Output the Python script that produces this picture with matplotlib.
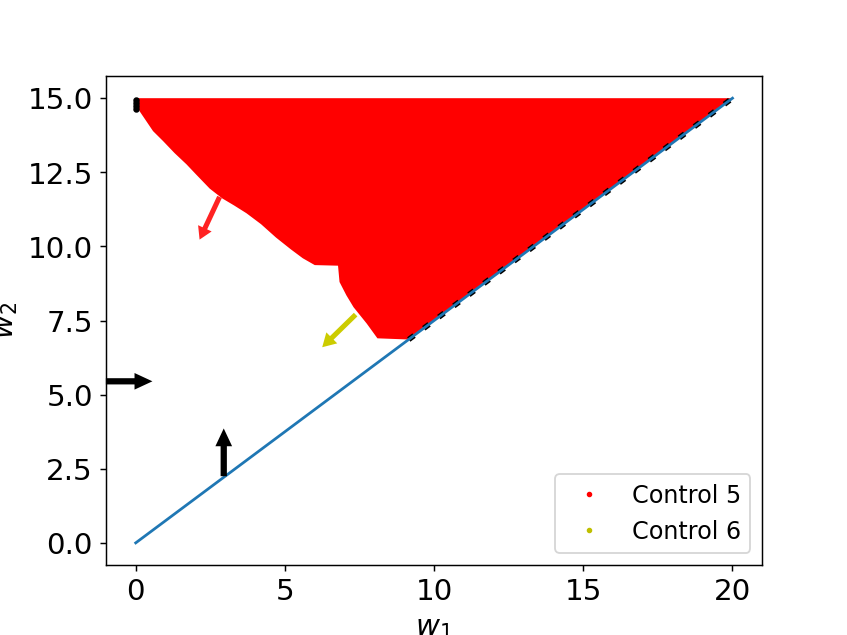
import matplotlib
matplotlib.use('Agg')
import matplotlib.pyplot as plt

# diagonal constraint line w2 = 0.75 w1
line_w1 = [0, 20]
line_w2 = [0, 15]

region_w1 = [0.0, 0.05, 0.13, 0.58, 0.92, 1.30, 1.70, 2.03, 2.48, 2.90, 3.30, 3.71,
             4.20, 4.70, 5.20, 5.60, 6.00, 6.78, 6.83, 7.06, 7.30, 7.74, 8.10, 9.15,
             20.0, 0.0]
region_w2 = [15.0, 14.8, 14.56, 13.89, 13.55, 13.15, 12.77, 12.42, 11.95, 11.62, 11.38, 11.12,
             10.75, 10.30, 9.90, 9.60, 9.37, 9.35, 8.80, 8.35, 7.95, 7.40, 6.90, 6.86,
             15.0, 15.0]

# black points on the boundary
edge_w1 = [9.15, 20.0]
edge_w2 = [6.86, 15.0]
corner_w1 = [0.0, 0.0, 0.0, 0.0]
corner_w2 = [14.65, 14.75, 14.85, 14.95]

# arrows: x, y, dx, dy
red_arrow = (2.81, 11.67, -0.67, -1.44)
yellow_arrow = (7.37, 7.70, -1.12, -1.10)
black_arrow_h = (-1.0, 5.45, 1.56, 0.0)
black_arrow_v = (2.95, 2.25, 0.0, 1.61)

fig, ax = plt.subplots(figsize=(6.4, 4.8))

ax.fill(region_w1, region_w2, color='red', lw=0, zorder=1)
ax.plot(edge_w1, edge_w2, color='k', ls=(0, (1.2, 2.2)), lw=3, zorder=2)
ax.plot(corner_w1, corner_w2, 'k.', ms=5, zorder=3)
ax.plot(line_w1, line_w2, color='C0', lw=1.5, zorder=4)

# legend handles
ax.plot([], [], '.', color='red', ms=4, label='Control 5')
ax.plot([], [], '.', color='y', ms=4, label='Control 6')

ax.arrow(*red_arrow, width=0.17, head_width=0.5, head_length=0.42,
         length_includes_head=True, color='#ff2222', lw=0, zorder=5)
ax.arrow(*yellow_arrow, width=0.17, head_width=0.52, head_length=0.45,
         length_includes_head=True, color='#cccc00', lw=0, zorder=5)
ax.arrow(*black_arrow_h, width=0.21, head_width=0.56, head_length=0.6,
         length_includes_head=True, color='k', lw=0, zorder=5, clip_on=False)
ax.arrow(*black_arrow_v, width=0.21, head_width=0.56, head_length=0.6,
         length_includes_head=True, color='k', lw=0, zorder=5)

ax.set_xlim(-1, 21)
ax.set_ylim(-0.75, 15.75)
ax.set_xticks([0, 5, 10, 15, 20])
ax.set_yticks([0, 2.5, 5, 7.5, 10, 12.5, 15])
ax.tick_params(labelsize=16)
ax.set_xlabel('$w_1$', fontsize=16)
ax.set_ylabel('$w_2$', fontsize=16)
ax.legend(loc='lower right', fontsize=13)

fig.savefig('out.png', dpi=132.35)
